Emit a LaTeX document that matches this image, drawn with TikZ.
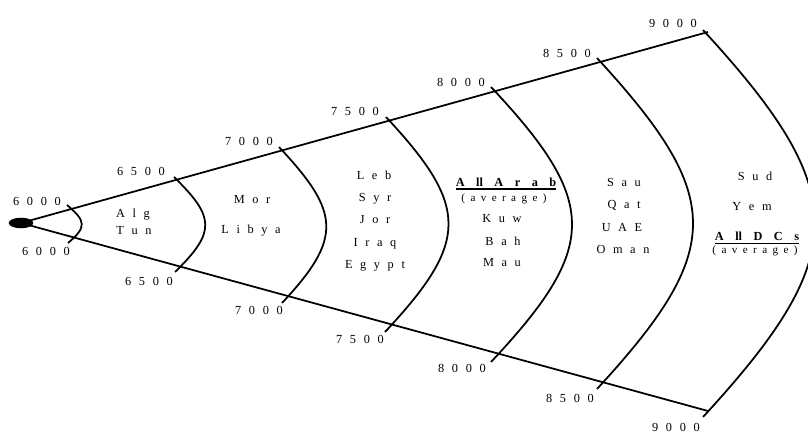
\documentclass[tikz,border=0pt]{standalone}
\usepackage{fontspec}
\setmainfont{Liberation Serif}
\usetikzlibrary{shapes.geometric}
\newcommand\heavyul[2]{\setbox0\hbox{#2}\leavevmode\rlap{\rule[-2.2pt]{\wd0}{#1}}\box0}
\newcommand\gap[1]{\spaceskip #1\relax}
\tikzset{
  edge/.style={line width=1.5pt},
  band/.style={line width=1.5pt},
  val/.style={inner sep=0pt, font={\fontsize{10.5}{12}\selectfont\gap{6.6pt}}},
  ctry/.style={inner sep=0pt, anchor=base, font={\fontsize{10.5}{12}\selectfont\gap{6.5pt}}},
  head/.style={ctry, font={\fontsize{10.5}{12}\selectfont\bfseries\gap{9.8pt}}},
  avg/.style={ctry, font={\fontsize{9.5}{11}\selectfont\gap{4.6pt}}},
}
\begin{document}
\begin{tikzpicture}[x=0.03cm,y=-0.03cm]
\useasboundingbox (0,0) rectangle (808,433);
\clip (0,0) rectangle (808,433);
\node[ellipse, fill, minimum width=21pt, minimum height=9pt, inner sep=0pt] (apex) at (21,223) {};
\coordinate (top) at (708,32);
\coordinate (bot) at (708,411);
\draw[edge] (apex.center) -- (top);
\draw[edge] (apex.center) -- (bot);
% bands
\draw[band] (67,205) .. controls (86,221) and (87,227) .. (68,243);
\draw[band] (174,177) .. controls (215,217) and (216,232) .. (175,272);
\draw[band] (279,147) .. controls (340,212) and (343,238) .. (282,303);
\draw[band] (386,117) .. controls (470,207) and (469,242) .. (385,332);
\draw[band] (491,87) .. controls (599,202) and (599,247) .. (491,362);
\draw[band] (597,58) .. controls (725,197) and (725,250) .. (597,389);
\draw[band] (703,30) .. controls (852,192) and (852,255) .. (703,417);
% values
\node[val] (u6000) at (37,201) {6 0 0 0};
\node[val] (l6000) at (46,251) {6 0 0 0};
\node[val] (u6500) at (141,171) {6 5 0 0};
\node[val] (l6500) at (149,281) {6 5 0 0};
\node[val] (u7000) at (249,141) {7 0 0 0};
\node[val] (l7000) at (259,310) {7 0 0 0};
\node[val] (u7500) at (355,111) {7 5 0 0};
\node[val] (l7500) at (360,339) {7 5 0 0};
\node[val] (u8000) at (461,82) {8 0 0 0};
\node[val] (l8000) at (462,368) {8 0 0 0};
\node[val] (u8500) at (567,53) {8 5 0 0};
\node[val] (l8500) at (570,398) {8 5 0 0};
\node[val] (u9000) at (673,23) {9 0 0 0};
\node[val] (l9000) at (676,427) {9 0 0 0};
% countries
\node[ctry] (alg) at (133,218) {A l g};
\node[ctry] (tun) at (134,235) {T u n};
\node[ctry] (mor) at (252,204) {M o r};
\node[ctry] (lby) at (251,234) {L i b y a};
\node[ctry] (leb) at (374,180) {L e b};
\node[ctry] (syr) at (375,202) {S y r};
\node[ctry] (jor) at (375,224) {J o r};
\node[ctry] (irq) at (375,247) {I r a q};
\node[ctry] (egy) at (375,269) {E g y p t};
\node[head] (arab) at (506,187) {\heavyul{1.3pt}{A ll A r a b}};
\node[avg] (arabavg) at (504,202) {( a v e r a g e )};
\node[ctry] (kuw) at (502,223) {K u w};
\node[ctry] (bah) at (503,246) {B a h};
\node[ctry] (mau) at (502,267) {M a u};
\node[ctry] (sau) at (624,187) {S a u};
\node[ctry] (qat) at (624,209) {Q a t};
\node[ctry] (uae) at (622,232) {U A E};
\node[ctry] (omn) at (623,254) {O m a n};
\node[ctry] (sud) at (755,181) {S u d};
\node[ctry] (yem) at (752,211) {Y e m};
\node[head] (dcs) at (757,241) {\heavyul{0.9pt}{A ll D C s}};
\node[avg] (dcsavg) at (755,254) {( a v e r a g e )};
\end{tikzpicture}
\end{document}
